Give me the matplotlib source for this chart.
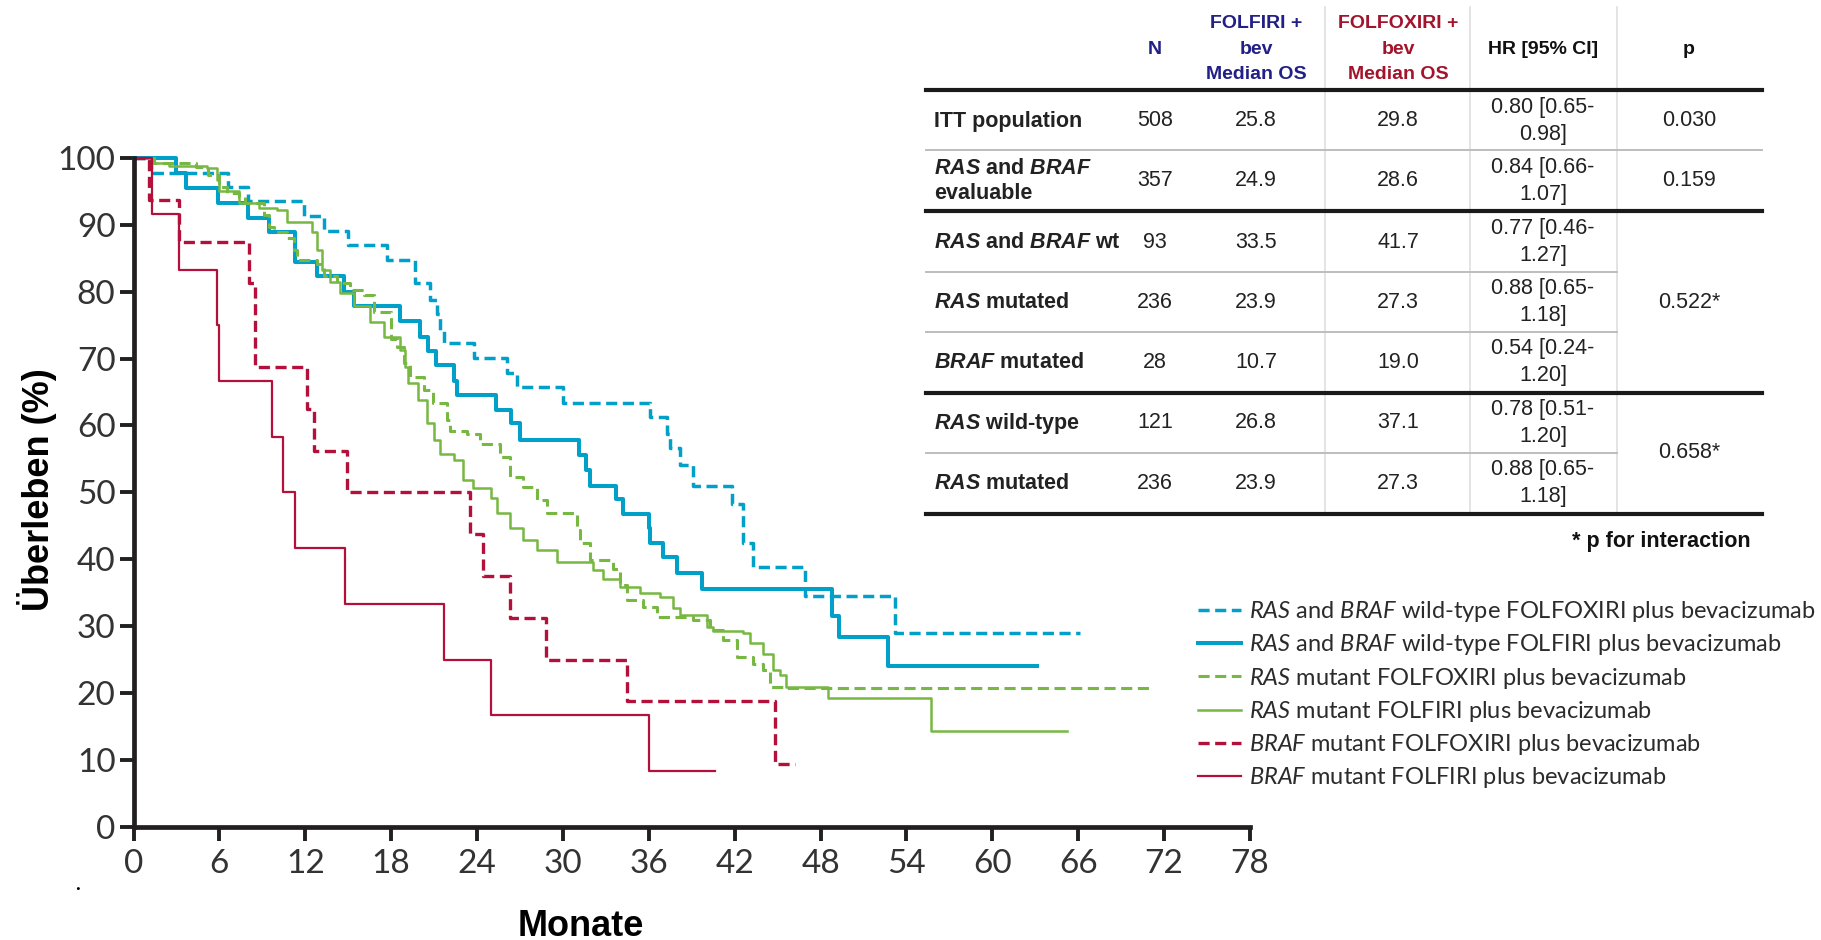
import matplotlib
matplotlib.use("Agg")
import matplotlib.pyplot as plt
from matplotlib.lines import Line2D

plt.rcParams['font.family'] = ['Lato', 'DejaVu Sans']
plt.rcParams['mathtext.fontset'] = 'custom'
plt.rcParams['mathtext.rm'] = 'Lato'
plt.rcParams['mathtext.it'] = 'Lato:italic'
plt.rcParams['mathtext.bfit'] = 'Liberation Sans:italic:bold'
plt.rcParams['lines.scale_dashes'] = False

W, H = 1821, 940

# Kaplan-Meier curves: month of each event, survival (%) after it, last follow-up month
wt_foxiri_t = [1.2, 6.6, 8.0, 11.9, 13.3, 15.0, 17.7, 19.7, 20.7, 21.2, 21.4, 21.7, 23.8, 26.1,
               26.8, 30.0, 36.1, 37.3, 37.5, 38.2, 39.1, 41.8, 42.6, 43.3, 46.9, 53.2]
wt_foxiri_s = [97.8, 95.7, 93.5, 91.3, 89.1, 87.0, 84.8, 81.3, 78.8, 76.6, 74.3, 72.3, 70.1, 67.9,
               65.7, 63.4, 61.3, 58.8, 56.6, 54.1, 51.0, 48.3, 42.5, 38.8, 34.5, 28.9]
wt_foxiri_end = 66.1

wt_firi_t = [3.0, 3.7, 5.9, 8.0, 9.5, 11.3, 12.8, 14.7, 15.4, 18.6, 20.0, 20.6, 21.1, 22.4, 22.6,
             25.3, 26.4, 27.0, 31.1, 31.6, 31.9, 33.7, 34.2, 36.0, 36.1, 37.0, 38.0, 39.7, 48.8,
             49.3, 52.7]
wt_firi_s = [97.8, 95.5, 93.3, 91.1, 88.9, 84.5, 82.4, 80.0, 77.9, 75.6, 73.3, 71.2, 69.0, 66.7,
             64.5, 62.3, 60.3, 57.9, 55.6, 53.4, 51.0, 49.0, 46.8, 44.6, 42.4, 40.3, 37.9, 35.5,
             31.5, 28.3, 24.1]
wt_firi_end = 63.1

ras_foxiri_t = [1.4, 4.4, 5.2, 6.0, 6.5, 7.4, 7.8, 9.1, 9.5, 9.8, 10.7, 11.2, 11.4, 12.8, 13.3,
                14.2, 15.1, 16.1, 16.8, 18.0, 18.4, 18.9, 19.3, 20.3, 20.95, 21.9, 22.1, 23.3,
                24.2, 25.6, 26.3, 27.2, 28.2, 28.9, 31.0, 31.2, 31.9, 33.5, 34.0, 34.5, 35.6,
                36.6, 39.1, 40.3, 41.2, 42.15, 43.3, 44.0, 44.5, 45.6]
ras_foxiri_s = [99.2, 98.7, 97.5, 95.7, 94.7, 94.2, 93.2, 91.5, 89.7, 89.0, 88.0, 86.2, 84.7,
                84.2, 82.3, 81.3, 80.3, 79.5, 77.0, 73.0, 71.8, 69.3, 67.3, 65.3, 63.3, 60.8,
                59.1, 58.8, 57.3, 55.3, 52.3, 50.8, 48.9, 46.9, 44.4, 42.4, 39.9, 38.6, 36.1,
                33.9, 32.9, 31.4, 30.9, 29.4, 27.9, 25.4, 24.4, 23.4, 20.9, 20.7]
ras_foxiri_end = 71.0

ras_firi_t = [1.1, 2.5, 5.1, 5.8, 6.0, 7.4, 8.8, 10.0, 10.7, 12.5, 12.8, 13.2, 13.7, 14.4, 15.4,
              16.5, 17.5, 18.6, 19.0, 19.2, 19.9, 20.5, 21.0, 21.4, 22.4, 23.05, 23.7, 25.0,
              25.4, 26.3, 27.2, 28.2, 29.6, 32.1, 32.8, 34.0, 35.4, 36.8, 37.7, 38.2, 40.1,
              40.5, 42.6, 43.1, 44.0, 44.7, 45.2, 45.6, 48.5, 55.7]
ras_firi_s = [99.2, 98.8, 98.5, 96.7, 95.0, 93.2, 92.5, 92.2, 90.5, 89.0, 86.2, 83.3, 81.5,
              79.8, 77.8, 75.5, 73.3, 71.3, 68.8, 66.3, 63.8, 60.3, 57.8, 55.8, 54.8, 51.8,
              50.6, 49.1, 46.9, 44.6, 42.9, 41.4, 39.6, 38.4, 37.1, 35.9, 34.9, 34.4, 32.7,
              31.7, 29.9, 29.2, 28.9, 27.4, 25.9, 23.4, 22.7, 20.9, 19.3, 14.3]
ras_firi_end = 65.2

braf_foxiri_t = [1.1, 3.2, 8.1, 8.5, 12.1, 12.6, 14.9, 23.5, 24.4, 26.3, 28.8, 34.5, 44.8]
braf_foxiri_s = [93.75, 87.5, 81.25, 68.75, 62.5, 56.25, 50.0, 43.75, 37.5, 31.25, 25.0, 18.75, 9.4]
braf_foxiri_end = 46.2

braf_firi_t = [1.3, 3.2, 5.8, 6.0, 9.7, 10.45, 11.3, 14.8, 21.7, 25.0, 36.0]
braf_firi_s = [91.7, 83.3, 75.0, 66.7, 58.3, 50.0, 41.7, 33.3, 25.0, 16.7, 8.3]
braf_firi_end = 40.6

legend_labels = [
    r"$\mathit{RAS}$ and $\mathit{BRAF}$ wild-type FOLFOXIRI plus bevacizumab",
    r"$\mathit{RAS}$ and $\mathit{BRAF}$ wild-type FOLFIRI plus bevacizumab",
    r"$\mathit{RAS}$ mutant FOLFOXIRI plus bevacizumab",
    r"$\mathit{RAS}$ mutant FOLFIRI plus bevacizumab",
    r"$\mathit{BRAF}$ mutant FOLFOXIRI plus bevacizumab",
    r"$\mathit{BRAF}$ mutant FOLFIRI plus bevacizumab",
]

# summary table
row_labels = [
    "ITT population",
    r"$\mathbfit{RAS}$ and $\mathbfit{BRAF}$" + "\nevaluable",
    r"$\mathbfit{RAS}$ and $\mathbfit{BRAF}$ wt",
    r"$\mathbfit{RAS}$ mutated",
    r"$\mathbfit{BRAF}$ mutated",
    r"$\mathbfit{RAS}$ wild-type",
    r"$\mathbfit{RAS}$ mutated",
]
n_patients = [508, 357, 93, 236, 28, 121, 236]
os_folfiri = ["25.8", "24.9", "33.5", "23.9", "10.7", "26.8", "23.9"]
os_folfoxiri = ["29.8", "28.6", "41.7", "27.3", "19.0", "37.1", "27.3"]
hr_ci = ["0.80 [0.65-\n0.98]", "0.84 [0.66-\n1.07]", "0.77 [0.46-\n1.27]", "0.88 [0.65-\n1.18]",
         "0.54 [0.24-\n1.20]", "0.78 [0.51-\n1.20]", "0.88 [0.65-\n1.18]"]
p_values = ["0.030", "0.159", "0.522*", "0.658*"]
p_rows = [0, 1, 3, 5.5]

BLUE = "#00a0c8"
GREEN = "#76b842"
RED = "#b4103c"
INK = "#231f20"


def fx(px):
    return px / W


def fy(py):
    return 1 - py / H


def km_step(ax, times, surv, end, **kw):
    t = [0] + times + [end]
    s = [100] + surv + [surv[-1]]
    line, = ax.step(t, s, where="post", clip_on=False, **kw)
    return line


fig = plt.figure(figsize=(W / 100, H / 100), dpi=100)
ax = fig.add_axes([fx(133.5), fy(826.7), fx(1250 - 133.5), (826.7 - 158) / H])

dash = (0, (8, 4))
handles = [
    km_step(ax, wt_foxiri_t, wt_foxiri_s, wt_foxiri_end, color=BLUE, lw=2.5, linestyle=dash),
    km_step(ax, wt_firi_t, wt_firi_s, wt_firi_end, color=BLUE, lw=2.9),
    km_step(ax, ras_foxiri_t, ras_foxiri_s, ras_foxiri_end, color=GREEN, lw=2.2, linestyle=dash),
    km_step(ax, ras_firi_t, ras_firi_s, ras_firi_end, color=GREEN, lw=1.8),
    km_step(ax, braf_foxiri_t, braf_foxiri_s, braf_foxiri_end, color=RED, lw=2.4, linestyle=dash),
    km_step(ax, braf_firi_t, braf_firi_s, braf_firi_end, color=RED, lw=1.6),
]

ax.set_xlim(0, 78)
ax.set_ylim(0, 100)
ax.set_xticks(range(0, 79, 6))
ax.set_yticks(range(0, 101, 10))
for side in ("top", "right"):
    ax.spines[side].set_visible(False)
for side in ("left", "bottom"):
    ax.spines[side].set_linewidth(3.4)
    ax.spines[side].set_color(INK)
ax.tick_params(axis="both", length=10, width=2.8, color=INK, labelsize=24,
               labelcolor="#333333")
ax.tick_params(axis="y", pad=3)
ax.tick_params(axis="x", pad=6)

fig.text(fx(37), fy(490), "Überleben (%)", rotation=90, ha="center", va="center",
         family="Liberation Sans", weight="bold", size=26)
fig.text(fx(581), fy(926), "Monate", ha="center", va="center",
         family="Liberation Sans", weight="bold", size=26)
fig.text(fx(78), fy(884), ".", ha="center", va="center", size=14, weight="bold")

fig.legend(handles, legend_labels, loc="upper left", bbox_to_anchor=(fx(1198), fy(599)),
           frameon=False, borderpad=0, borderaxespad=0, handlelength=1.8,
           handletextpad=0.35, labelspacing=0.35, prop={"family": "Lato", "size": 17},
           labelcolor="#2b2b2b")

# table layout
x_left, x_right, x_pcol = 926, 1762, 1617
col_x = {"label": 934, "n": 1155, "firi": 1256, "foxiri": 1398, "hr": 1543, "p": 1689}
row_y = [121, 181, 242, 302, 362, 423, 483]
tfont = {"family": "Liberation Sans", "size": 15.5, "color": "#222222"}


def hline(y, x0, x1, lw, color):
    fig.add_artist(Line2D([fx(x0), fx(x1)], [fy(y), fy(y)], lw=lw, color=color,
                          transform=fig.transFigure))


def vline(x, y0, y1):
    fig.add_artist(Line2D([fx(x), fx(x)], [fy(y0), fy(y1)], lw=1.1, color="#dcdcdc",
                          transform=fig.transFigure))


for x in (1325, 1470, x_pcol):
    vline(x, 7, 514)
for y in (90, 211, 393, 514):
    hline(y, x_left, x_right, 3.0, "#1a1a1a")
hline(150, x_left, x_right, 1.4, "#bdbdbd")
for y in (272, 332, 453):
    hline(y, x_left, x_pcol, 1.4, "#bdbdbd")

hdr = {"family": "Liberation Sans", "size": 14, "weight": "bold", "ha": "center",
       "va": "center", "linespacing": 1.66}
fig.text(fx(col_x["n"]), fy(49), "N", color="#221f86", **hdr)
fig.text(fx(col_x["firi"]), fy(49), "FOLFIRI +\nbev\nMedian OS", color="#221f86", **hdr)
fig.text(fx(col_x["foxiri"]), fy(49), "FOLFOXIRI +\nbev\nMedian OS", color="#a3142c", **hdr)
fig.text(fx(col_x["hr"]), fy(49), "HR [95% CI]", color="#111111", **hdr)
fig.text(fx(col_x["p"]), fy(49), "p", color="#111111", **hdr)

for i, y in enumerate(row_y):
    fig.text(fx(col_x["label"]), fy(y), row_labels[i], ha="left", va="center",
             weight="bold", linespacing=1.3, **tfont)
    fig.text(fx(col_x["n"]), fy(y), str(n_patients[i]), ha="center", va="center", **tfont)
    fig.text(fx(col_x["firi"]), fy(y), os_folfiri[i], ha="center", va="center", **tfont)
    fig.text(fx(col_x["foxiri"]), fy(y), os_folfoxiri[i], ha="center", va="center", **tfont)
    fig.text(fx(col_x["hr"]), fy(y), hr_ci[i], ha="center", va="center", linespacing=1.32,
             **tfont)

for p, r in zip(p_values, p_rows):
    y = row_y[int(r)] if r == int(r) else (row_y[int(r)] + row_y[int(r) + 1]) / 2
    fig.text(fx(col_x["p"]), fy(y), p, ha="center", va="center", **tfont)

fig.text(fx(1751), fy(542), "* p for interaction", ha="right", va="center",
         family="Liberation Sans", size=15.5, weight="bold", color="#111111")

fig.savefig("out.png", dpi=100)
